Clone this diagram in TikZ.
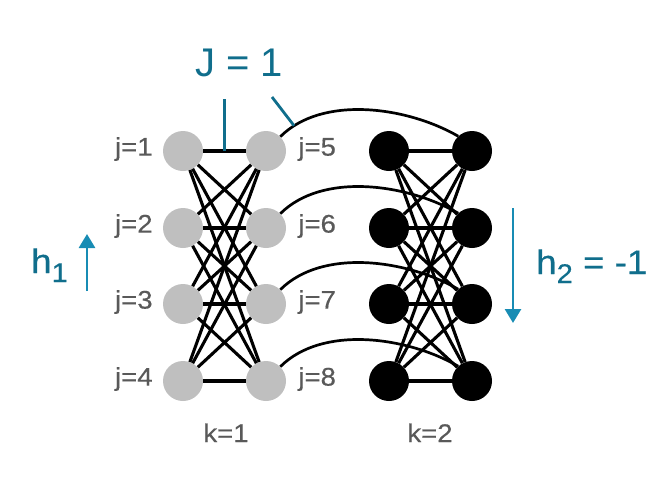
\documentclass[tikz,border=0pt]{standalone}
\usepackage{fontspec}
\setmainfont{Liberation Sans}
\newfontfamily\widefont[FakeStretch=1.08,FakeBold=0.4]{Liberation Sans}
\newfontfamily\titlefont{Liberation Sans}
\usetikzlibrary{positioning,arrows.meta}
\definecolor{spingray}{RGB}{191,191,191}
\definecolor{labelgray}{RGB}{89,89,89}
\definecolor{jteal}{RGB}{16,110,140}
\definecolor{hteal}{RGB}{24,140,180}

\begin{document}
\begin{tikzpicture}[x=1pt,y=-1pt,
  spin/.style={circle,minimum size=40pt,inner sep=0pt},
  upspin/.style={spin,fill=spingray},
  downspin/.style={spin,fill=black},
  bond/.style={line width=3.1pt},
  lbl/.style={text=labelgray,font=\widefont\fontsize{25.5}{27}\selectfont,inner sep=0pt},
  coupling/.style={line width=2.8pt,draw=jteal},
  field/.style={line width=2.8pt,draw=hteal,-{Triangle[width=16pt,length=14pt]}},
  fieldlbl/.style={text=jteal,font=\widefont\fontsize{34}{36}\selectfont,inner sep=0pt}
]
\useasboundingbox (0,0) rectangle (672,480);

% Spins, k=1 grey and k=2 black
\foreach \j/\y in {1/151,2/228,3/304,4/381} {
  \pgfmathtruncatemacro\jj{\j+4}
  \node[upspin] (u\j) at (183,\y) {};
  \node[upspin] (u\jj) at (266,\y) {};
  \node[downspin] (d\j) at (389,\y) {};
  \node[downspin] (d\jj) at (472,\y) {};
  \node[lbl,left=10pt of u\j,yshift=2pt] (lu\j) {j=\j};
  \node[lbl,right=12pt of u\jj,yshift=2pt] (lu\jj) {j=\jj};
}

% Couplings inside each replica
\foreach \a in {1,...,4}
  \foreach \b in {5,...,8} {
    \draw[bond] (u\a) -- coordinate (m\a\b) (u\b);
    \draw[bond] (d\a) -- (d\b);
  }

% Couplings between replicas
\foreach \j in {5,...,8}
  \draw[line width=2.7pt] (u\j.45) to[out=45,in=150,looseness=0.85] coordinate[pos=0.1] (arc\j) (d\j.133);

% J label
\node[text=jteal,font=\titlefont\fontsize{40}{44}\selectfont,inner sep=0pt,anchor=base west] (jlabel) at (195,76) {J = 1};
\coordinate (jv) at (224.5,99);
\coordinate (jd) at (272,97);
\draw[coupling] (jv) -- (m15);
\draw[coupling] (jd) -- (arc5);

% Fields
\coordinate (h1tail) at (87,291);
\coordinate (h1head) at (87,234);
\draw[field] (h1tail) -- (h1head);
\node[fieldlbl,anchor=base west] (h1lbl) at (31,273) {h\raisebox{-9pt}{\fontsize{27}{27}\selectfont 1}};

\coordinate (h2tail) at (513,208);
\coordinate (h2head) at (513,323);
\draw[field] (h2tail) -- (h2head);
\node[fieldlbl,anchor=base west] (h2lbl) at (536,274) {h\raisebox{-9pt}{\fontsize{27}{27}\selectfont 2} = -1};

% Replica labels
\node[lbl,anchor=base] (k1) at (226,442) {k=1};
\node[lbl,anchor=base] (k2) at (430,442) {k=2};

\end{tikzpicture}
\end{document}
